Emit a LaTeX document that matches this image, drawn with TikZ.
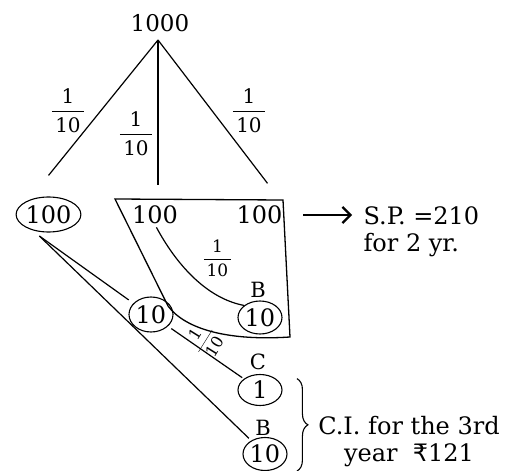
\documentclass[tikz,border=0pt]{standalone}
\usepackage{fontspec}
\setmainfont{DejaVu Serif}
\newfontfamily\rupeefont{DejaVu Sans}
\usetikzlibrary{shapes.geometric,decorations.pathreplacing,arrows.meta}
\newcommand\frc[1]{{\fontsize{#1}{#1}\selectfont\renewcommand\arraystretch{1.05}\begin{tabular}{@{\,}c@{\,}}1\\[1pt]\hline\rule{0pt}{1.05em}10\end{tabular}}}
\begin{document}
\begin{tikzpicture}[x=1pt,y=-1pt,line width=1.2pt,
  num/.style={font=\fontsize{24}{27}\selectfont, inner sep=0pt},
  lbl/.style={font=\fontsize{21}{24}\selectfont, inner sep=0pt},
  oval/.style={ellipse, draw, line width=1.1pt, inner sep=0pt, font=\fontsize{24}{27}\selectfont},
  frac/.style={inner sep=0pt},
  bracestyle/.style={decorate, decoration={brace, amplitude=11pt}, line width=1.1pt},
  arrowstyle/.style={line width=2.2pt, -{Straight Barb[length=8pt,width=16pt,line width=2.2pt]}}]
\useasboundingbox (0,0) rectangle (507,471);
% top
\node[num, font=\fontsize{23}{26}\selectfont] (top) at (160,23) {1000};
\coordinate (apex) at (158,40);
% level 1 nodes
\node[oval, minimum width=63, minimum height=35] (L) at (48.5,214.5) {100};
\node[num] (M) at (155,215) {100};
\node[num] (R) at (259.5,215) {100};
\draw (apex) -- ([shift={(0,-21)}]L.north);
\draw (apex) -- ([shift={(3,-20)}]M.north);
\draw (apex) -- ([shift={(8,-22)}]R.north);
% fractions on top branches
\node[frac] (f1) at (68,114) {\frc{20}};
\node[frac] (f2) at (136,137) {\frc{20}};
\node[frac] (f3) at (249,114) {\frc{20}};
% enclosing shape
\draw[line width=1.3pt] (115,199) -- (283,200) -- (290,337) .. controls (230,341) and (186,330) .. (168,306) -- cycle;
% inner branch
\node[oval, minimum width=44, minimum height=33] (B1) at (260,317.5) {10};
\node[lbl] (b1) at (258,290) {B};
\draw[shorten <=3pt] (M.south) .. controls (175,262) and (205,298) .. (B1.north west);
\node[frac] (f4) at (217.5,261) {\frc{17}};
% lower branches
\node[oval, minimum width=44, minimum height=35] (T) at (151,314.5) {10};
\node[oval, minimum width=44, minimum height=31] (C) at (260,390) {1};
\node[lbl] (c) at (258,362) {C};
\node[oval, minimum width=44, minimum height=33] (B2) at (265,454) {10};
\node[lbl] (b2) at (263,428) {B};
\draw ([shift={(-1,4)}]L.245) -- ([shift={(-4,-4)}]T.150);
\draw ([shift={(-1,4)}]L.245) -- ([shift={(-1,-3)}]B2.140);
\draw[shorten <=4pt, shorten >=2pt] (T) -- (C);
\node[frac, rotate=58] (f5) at (207,342) {\frc{16}};
% right side
\node[num, anchor=west, align=left] (SP) at (363,232) {S.P. =210\\for 2 yr.};
\draw[arrowstyle, shorten <=20pt, shorten >=11pt] (R.east) -- (R.east -| SP.west);
\draw[bracestyle] ([xshift=21pt]C.north east) -- ([xshift=21pt]C.north east |- B2.south);
\node[num, align=center] (CI) at (409,442) {C.I. for the 3rd\\year\ \ {\rupeefont ₹}121};
\end{tikzpicture}
\end{document}
